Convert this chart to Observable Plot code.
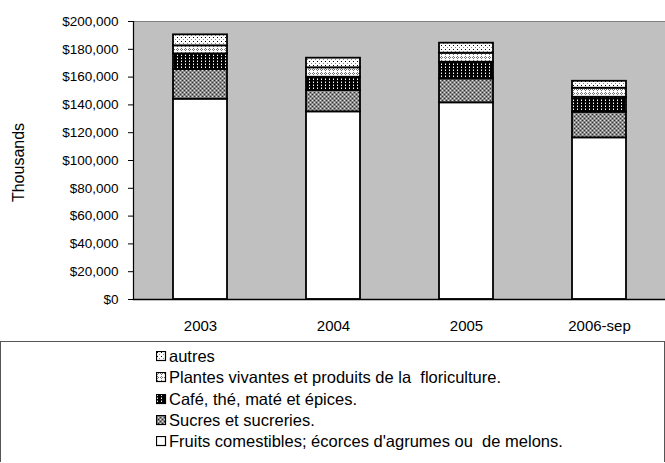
<!DOCTYPE html>
<html><head>
<meta charset="utf-8">
<script src="https://cdn.jsdelivr.net/npm/d3@7"></script>
<script src="https://cdn.jsdelivr.net/npm/@observablehq/plot@0.6"></script>
<style>
body{margin:0;background:#fff;font-family:"Liberation Sans",Arial,sans-serif;}
#chart svg{display:block;}
#legend{box-sizing:border-box;width:665px;height:121px;border:1px solid #555;border-bottom:none;margin-top:1px;padding-top:4px;font-size:16.5px;color:#000;}
.item{height:21.3px;display:flex;align-items:center;padding-left:155px;white-space:pre;}
.item svg{margin-right:2px;}
</style></head><body>
<div id="chart"></div>
<div id="legend"></div>
<script>
const years = ["2003", "2004", "2005", "2006-sep"];
const seriesNames = [
  "Fruits comestibles; écorces d'agrumes ou  de melons.",
  "Sucres et sucreries.",
  "Café, thé, maté et épices.",
  "Plantes vivantes et produits de la  floriculture.",
  "autres"
];
const fruits  = [144100, 135000, 141500, 116300];
const sucres  = [21300, 15300, 17200, 18400];
const cafe    = [11300, 9600, 12000, 10800];
const plantes = [5800, 6800, 6500, 6500];
const autres  = [7900, 6900, 7200, 5000];
const yTicks = [0, 20000, 40000, 60000, 80000, 100000, 120000, 140000, 160000, 180000, 200000];

const seriesValues = [fruits, sucres, cafe, plantes, autres];
const patternIds = ["pFruits", "pSucres", "pCafe", "pPlantes", "pAutres"];
const data = [];
seriesNames.forEach((s, i) => years.forEach((y, j) => data.push({year: y, series: s, value: seriesValues[i][j]})));

const fmt = d => "$" + d3.format(",")(d);

const chart = Plot.plot({
  width: 665,
  height: 340,
  marginLeft: 133,
  marginRight: 0,
  marginTop: 21,
  marginBottom: 41,
  style: {fontFamily: "'Liberation Sans', Arial, sans-serif", fontSize: "14px", color: "#000", background: "#fff"},
  x: {domain: years, paddingInner: 0.595, paddingOuter: 0.2975, label: null},
  y: {domain: [0, 200000], label: null},
  color: {domain: seriesNames, range: patternIds.map(id => `url(#${id})`)},
  marks: [
    Plot.frame({fill: "#c0c0c0", stroke: "#808080", strokeWidth: 1}),
    Plot.barY(data, {x: "year", y: "value", fill: "series", stroke: "#000", strokeWidth: 1.8}),
    Plot.frame({anchor: "left", stroke: "#000", strokeWidth: 1.2}),
    Plot.frame({anchor: "bottom", stroke: "#000", strokeWidth: 1.5}),
    Plot.axisY({ticks: yTicks, tickFormat: fmt, tickSize: 5, tickPadding: 10, label: null, fontSize: 13.5}),
    Plot.axisX({tickSize: 0, tickPadding: 21, label: null, fontSize: 15}),
    Plot.text(["Thousands"], {frameAnchor: "left", dx: -115, dy: 2, rotate: -90, textAnchor: "middle", fontSize: 16})
  ]
});

// SVG pattern definitions
const defs = `
<defs>
 <pattern id="pFruits" width="4" height="4" patternUnits="userSpaceOnUse"><rect width="4" height="4" fill="#fff"/></pattern>
 <pattern id="pSucres" width="4" height="4" patternUnits="userSpaceOnUse" shape-rendering="crispEdges">
   <rect width="4" height="4" fill="#8a8a8a"/>
   <rect x="0" y="0" width="1" height="1" fill="#e0e0e0"/><rect x="2" y="2" width="1" height="1" fill="#e0e0e0"/>
   <rect x="2" y="0" width="1" height="1" fill="#303030"/><rect x="0" y="2" width="1" height="1" fill="#303030"/>
 </pattern>
 <pattern id="pCafe" width="4" height="3" patternUnits="userSpaceOnUse" shape-rendering="crispEdges">
   <rect width="4" height="3" fill="#000"/>
   <rect x="1" y="1" width="1" height="1" fill="#fff"/><rect x="1" y="0" width="1" height="1" fill="#777"/>
 </pattern>
 <pattern id="pPlantes" width="4" height="4" patternUnits="userSpaceOnUse" shape-rendering="crispEdges">
   <rect width="4" height="4" fill="#fff"/>
   <rect x="1" y="0" width="1" height="1" fill="#707070"/><rect x="0" y="1" width="1" height="1" fill="#707070"/>
   <rect x="2" y="1" width="1" height="1" fill="#707070"/><rect x="1" y="2" width="1" height="1" fill="#707070"/>
 </pattern>
 <pattern id="pAutres" width="4" height="4" patternUnits="userSpaceOnUse" shape-rendering="crispEdges">
   <rect width="4" height="4" fill="#fff"/>
   <rect x="1" y="1" width="1" height="1" fill="#000"/><rect x="3" y="3" width="1" height="1" fill="#888"/>
 </pattern>
</defs>`;
chart.insertAdjacentHTML("afterbegin", defs);
document.getElementById("chart").appendChild(chart);

// Legend (top-to-bottom: reverse of stacking order)
const legend = document.getElementById("legend");
for (let i = seriesNames.length - 1; i >= 0; i--) {
  const row = document.createElement("div");
  row.className = "item";
  row.innerHTML = `<svg width="11" height="11"><rect x="0.5" y="0.5" width="9" height="9" fill="url(#${patternIds[i]})" stroke="#000" stroke-width="1.2"/></svg>`;
  const span = document.createElement("span");
  span.textContent = seriesNames[i];
  row.appendChild(span);
  legend.appendChild(row);
}
</script>
</body></html>
